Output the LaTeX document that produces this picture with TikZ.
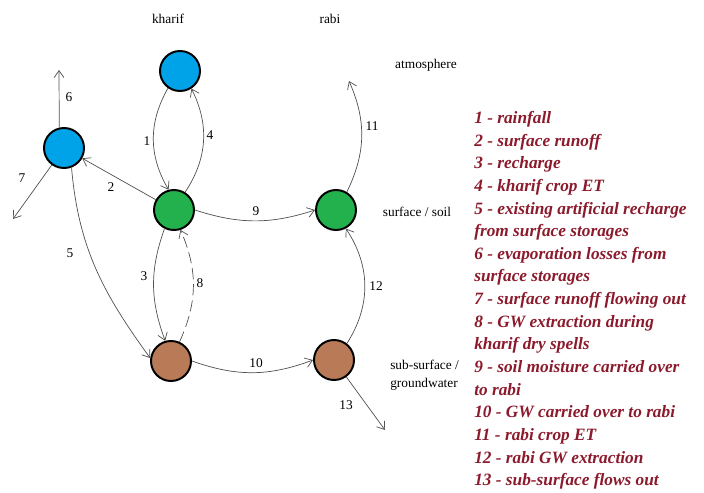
\documentclass[tikz,border=0pt]{standalone}
\usepackage{fontspec}
\setmainfont{Liberation Serif}
\usepackage{xcolor}
\definecolor{atmblue}{HTML}{00A2E8}
\definecolor{soilgreen}{HTML}{22B14C}
\definecolor{gwbrown}{HTML}{B97A57}
\definecolor{flowgray}{HTML}{505050}
\definecolor{legendred}{HTML}{8B1A2C}
\usepackage{tikz}
\usetikzlibrary{arrows.meta,positioning}

\begin{document}
\begin{tikzpicture}[x=0.025cm, y=-0.025cm,
    pool/.style={circle, draw=black, line width=1.4pt, minimum size=1cm, inner sep=0pt},
    flow/.style={draw=flowgray, line width=0.5pt, -{Straight Barb[length=5pt,width=7pt]}},
    num/.style={font=\fontsize{9.5}{11}\selectfont, text=black},
    zone/.style={font=\fontsize{9.5}{12.8}\selectfont, text=black, align=left},
    legend/.style={font=\fontsize{12.3}{16.1}\selectfont\bfseries\itshape, text=legendred, align=left, anchor=north west, inner sep=0pt}
  ]
    \useasboundingbox (0,0) rectangle (704,493);

    \node[zone] (kharif) at (168,19) {kharif};
    \node[zone] (rabi) at (330,19) {rabi};
    \node[zone] (atm) at (426,65) {atmosphere};
    \node[zone] (soil) at (417,212) {surface / soil};
    \node[zone, anchor=north west, inner sep=0pt] (gw) at (390,360) {sub-surface /\\groundwater};

    \node[pool, fill=atmblue] (atmk) at (180,71) {};
    \node[pool, fill=atmblue] (stor) at (64,148) {};
    \node[pool, fill=soilgreen] (surfk) at (174,210) {};
    \node[pool, fill=soilgreen] (surfr) at (336,210) {};
    \node[pool, fill=gwbrown] (gwk) at (171,361) {};
    \node[pool, fill=gwbrown] (gwr) at (334,360) {};

    \coordinate (out6) at (59,70);
    \coordinate (out7) at (13,219);
    \coordinate (out11) at (349,81);
    \coordinate (out13) at (385,430);

    \draw[flow] (atmk.235) to[bend right=30] (surfk.105);
    \draw[flow] (surfk) -- (stor);
    \draw[flow] (surfk.243) to[bend right=20] (gwk.106);
    \draw[flow] (surfk.58) to[bend right=30] (atmk.303);
    \draw[flow] (stor.291) to[out=-85, in=126] (gwk.172);
    \draw[flow] (stor.103) -- (out6);
    \draw[flow] (stor) -- (out7);
    \draw[flow, dash pattern=on 8pt off 3.5pt] (gwk.66) to[bend right=24] (surfk.288);
    \draw[flow] (surfk.east) to[bend right=18] (surfr.west);
    \draw[flow] (gwk.east) to[bend right=20] (gwr.west);
    \draw[flow] (surfr.59) to[bend right=25] (out11);
    \draw[flow] (gwr.52) to[bend right=33] (surfr.298);
    \draw[flow] (gwr) -- (out13);

    \node[num] (n1) at (147,141) {1};
    \node[num] (n2) at (111,187) {2};
    \node[num] (n3) at (144,276) {3};
    \node[num] (n4) at (210,135) {4};
    \node[num] (n5) at (70,253) {5};
    \node[num] (n6) at (69,97) {6};
    \node[num] (n7) at (22,178) {7};
    \node[num] (n8) at (200,283) {8};
    \node[num] (n9) at (256,211) {9};
    \node[num] (n10) at (256,363) {10};
    \node[num] (n11) at (372,126) {11};
    \node[num] (n12) at (376,286) {12};
    \node[num] (n13) at (346,405) {13};

    \node[legend] (key) at (474,111) {1 - rainfall\\2 - surface runoff\\3 - recharge\\4 - kharif crop ET\\5 - existing artificial recharge\\from surface storages\\6 - evaporation losses from\\surface storages\\7 - surface runoff flowing out\\8 - GW extraction during\\kharif dry spells\\9 - soil moisture carried over\\to rabi\\10 - GW carried over to rabi\\11 - rabi crop ET\\12 - rabi GW extraction\\13 - sub-surface flows out};
  \end{tikzpicture}
\end{document}
